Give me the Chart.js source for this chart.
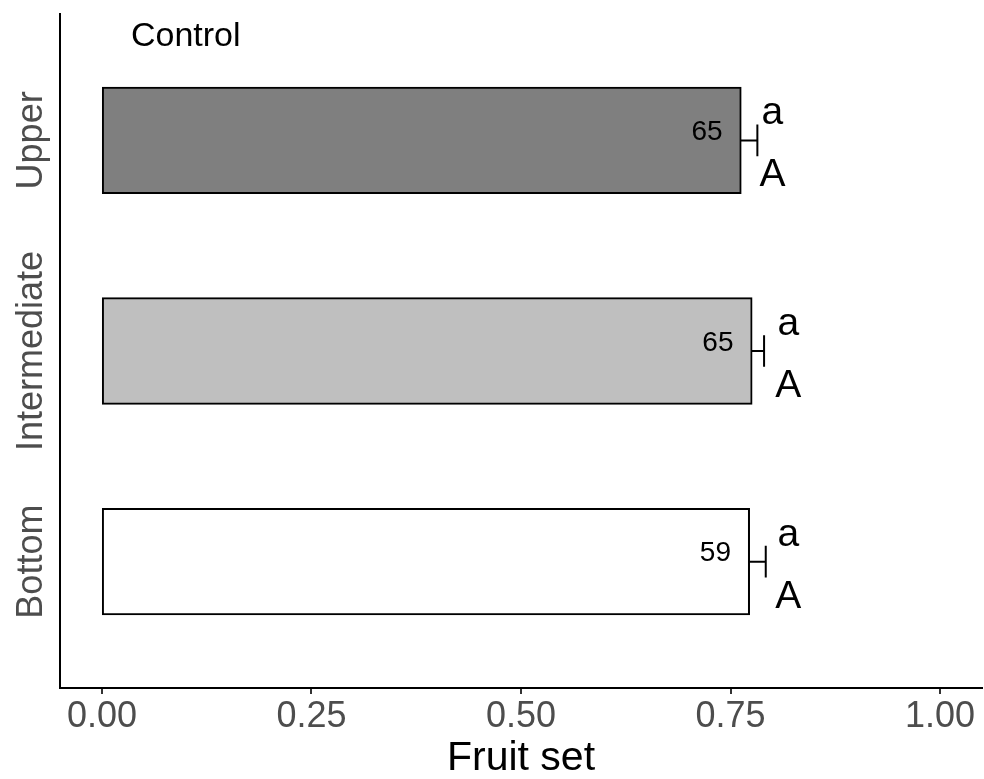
<!DOCTYPE html>
<html>
<head>
<meta charset="utf-8">
<script src="https://cdn.jsdelivr.net/npm/chart.js@4.4.1/dist/chart.umd.min.js"></script>
<style>
    html, body { margin: 0; padding: 0; background: #fff; }
    #wrap { width: 984px; height: 779px; }
</style>
</head>
<body>
<div id="wrap"><canvas id="fruitChart" width="984" height="779"></canvas></div>
<script>
/* ── data ── */
const categories = ['Upper', 'Intermediate', 'Bottom'];
const fruitSet = [0.762, 0.775, 0.772];
const fruitSetSE = [0.020, 0.015, 0.020];
const sampleSizes = ['65', '65', '59'];
const lowerLetters = ['a', 'a', 'a'];
const upperLetters = ['A', 'A', 'A'];
const letterX = [0.800, 0.819, 0.819];
const xTicks = [0, 0.25, 0.5, 0.75, 1];
const barColors = ['#7f7f7f', '#bfbfbf', '#ffffff'];
const panelLabel = 'Control';

const FONT = '\'Liberation Sans\', Arial, Helvetica, sans-serif';

// error bars, n labels, letters, rotated category labels
const annotations = {
    id: 'annotations',
    afterDatasetsDraw(chart) {
        const { ctx, scales: { x, y } } = chart;
        ctx.save();

        categories.forEach((cat, i) => {
            const cy = y.getPixelForValue(i + 1);
            const x0 = x.getPixelForValue(fruitSet[i]);
            const x1 = x.getPixelForValue(fruitSet[i] + fruitSetSE[i]);
            const capHalf = Math.abs(y.getPixelForValue(i + 1.075) - cy);

            // error bar (upper half only, like the original)
            ctx.strokeStyle = '#000';
            ctx.lineWidth = 2;
            ctx.beginPath();
            ctx.moveTo(x0, cy);
            ctx.lineTo(x1, cy);
            ctx.moveTo(x1, cy - capHalf);
            ctx.lineTo(x1, cy + capHalf);
            ctx.stroke();

            // sample size inside bar
            ctx.fillStyle = '#000';
            ctx.font = `28px ${FONT}`;
            ctx.textAlign = 'right';
            ctx.textBaseline = 'middle';
            ctx.fillText(sampleSizes[i], x0 - 18, cy - 8);

            // significance letters
            const lx = x.getPixelForValue(letterX[i]);
            ctx.font = `39px ${FONT}`;
            ctx.textAlign = 'center';
            ctx.textBaseline = 'alphabetic';
            ctx.fillText(lowerLetters[i], lx, cy - 16);
            ctx.fillText(upperLetters[i], lx, cy + 46);

            // category label, rotated
            ctx.save();
            ctx.translate(42, cy);
            ctx.rotate(-Math.PI / 2);
            ctx.fillStyle = '#4d4d4d';
            ctx.font = `36px ${FONT}`;
            ctx.textAlign = 'center';
            ctx.textBaseline = 'alphabetic';
            ctx.fillText(cat, 0, 0);
            ctx.restore();
        });

        // panel label
        ctx.fillStyle = '#000';
        ctx.font = `34px ${FONT}`;
        ctx.textAlign = 'center';
        ctx.textBaseline = 'middle';
        ctx.fillText(panelLabel, x.getPixelForValue(0.1), y.getPixelForValue(0.5) + 2);

        ctx.restore();
    }
};

new Chart(document.getElementById('fruitChart'), {
    type: 'bar',
    data: {
        datasets: [{
            data: categories.map((c, i) => ({ x: fruitSet[i], y: i + 1 })),
            backgroundColor: barColors,
            borderColor: '#000',
            borderWidth: 2,
            borderSkipped: false,
            inflateAmount: 1,
            categoryPercentage: 1,
            barPercentage: 0.5
        }]
    },
    options: {
        indexAxis: 'y',
        responsive: false,
        animation: false,
        events: [],
        layout: { padding: { top: 14, right: 2, left: 0, bottom: 0 } },
        plugins: { legend: { display: false }, tooltip: { enabled: false } },
        scales: {
            x: {
                type: 'linear',
                position: 'bottom',
                min: -0.05,
                max: 1.05,
                afterBuildTicks: s => { s.ticks = xTicks.map(v => ({ value: v })); },
                afterFit: s => { s.height = 91; },
                grid: { display: true, drawOnChartArea: false, drawTicks: true, tickLength: 6, tickColor: '#333333', lineWidth: 2 },
                border: { display: true, color: '#000', width: 2 },
                ticks: {
                    padding: 5,
                    color: '#4d4d4d',
                    font: { family: FONT, size: 36, lineHeight: 1 },
                    maxRotation: 0,
                    callback: v => v.toFixed(2)
                },
                title: {
                    display: true,
                    text: 'Fruit set',
                    color: '#000',
                    font: { family: FONT, size: 41, lineHeight: 1 },
                    padding: { top: 0, bottom: 0 }
                }
            },
            y: {
                type: 'linear',
                min: 0.4,
                max: 3.6,
                reverse: true,
                offset: false,
                afterBuildTicks: s => { s.ticks = categories.map((c, i) => ({ value: i + 1 })); },
                afterFit: s => { s.width = 60; },
                grid: { display: false, offset: false },
                border: { display: true, color: '#000', width: 2 },
                ticks: { display: false }
            }
        }
    },
    plugins: [annotations]
});
</script>
</body>
</html>
